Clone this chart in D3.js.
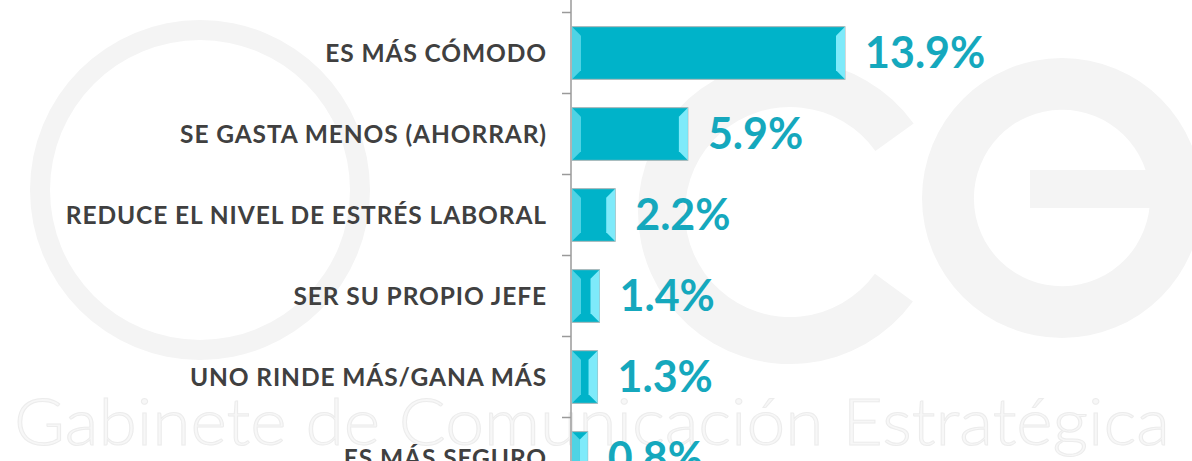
<!DOCTYPE html>
<html>
<head>
<meta charset="utf-8">
<script src="https://cdn.jsdelivr.net/npm/d3@7"></script>
<style>
  body { margin: 0; background: #fff; }
  svg { display: block; }
</style>
</head>
<body>
<svg id="container" width="1192" height="461"></svg>
<script>
let width = 1192,
    height = 461;

// data
let categories = ["ES MÁS CÓMODO", "SE GASTA MENOS (AHORRAR)", "REDUCE EL NIVEL DE ESTRÉS LABORAL",
    "SER SU PROPIO JEFE", "UNO RINDE MÁS/GANA MÁS", "ES MÁS SEGURO"]
let values = [13.9, 5.9, 2.2, 1.4, 1.3, 0.8]
let watermarkText = "Gabinete de Comunicación Estratégica"

let svg = d3.select("#container")

// faint logo in the background
let wm = svg.append("g").attr("fill", "#f4f4f4")
let arc = d3.arc()
wm.append("path")
    .attr("transform", "translate(200,190)")
    .attr("d", arc({innerRadius: 150, outerRadius: 170, startAngle: 0, endAngle: 2 * Math.PI}))
wm.append("path")
    .attr("transform", "translate(790,212)")
    .attr("d", arc({innerRadius: 105, outerRadius: 152, startAngle: 2.2, endAngle: 2 * Math.PI + 0.95}))
wm.append("path")
    .attr("transform", "translate(1062,198)")
    .attr("d", arc({innerRadius: 88, outerRadius: 140, startAngle: Math.PI / 2, endAngle: 2 * Math.PI + 1.95}))
wm.append("rect")
    .attr("x", 1030).attr("y", 170).attr("width", 175).attr("height", 38)

svg.append("text")
    .attr("x", 14)
    .attr("y", 445)
    .attr("textLength", 1156)
    .attr("lengthAdjust", "spacingAndGlyphs")
    .attr("font-family", "Lato, sans-serif")
    .attr("font-weight", 300)
    .attr("font-size", "66px")
    .attr("fill", "#f7f7f7")
    .attr("stroke", "#ececec")
    .attr("stroke-width", 1)
    .text(watermarkText)

// scales
let yScale = d3.scaleBand()
    .domain(categories)
    .range([12.5, 12.5 + 81 * categories.length])
    .paddingInner(0.35)
    .paddingOuter(0.175)

let xScale = d3.scaleLinear()
    .domain([0, 13.9])
    .range([572, 845])

// axis line with ticks between categories
let axis = svg.append("g").attr("stroke", "#9a9a9a")
axis.append("line")
    .attr("x1", 571).attr("x2", 571)
    .attr("y1", 0).attr("y2", height)
    .attr("stroke-width", 1.5)
axis.selectAll("line.tick")
    .data(d3.range(categories.length + 1))
    .enter()
    .append("line")
    .attr("class", "tick")
    .attr("x1", 562).attr("x2", 571)
    .attr("y1", i => yScale.range()[0] + i * yScale.step())
    .attr("y2", i => yScale.range()[0] + i * yScale.step())
    .attr("stroke-width", 1.5)

// bars with bevelled ends
let data = categories.map((c, i) => ({cat: c, value: values[i]}))
let bars = svg.append("g").selectAll("g")
    .data(data)
    .enter()
    .append("g")

bars.append("rect")
    .attr("x", xScale(0))
    .attr("y", d => yScale(d.cat))
    .attr("width", d => xScale(d.value) - xScale(0))
    .attr("height", yScale.bandwidth())
    .attr("fill", "#00b3c9")
    .attr("stroke", "#a9b4b6")
    .attr("stroke-width", 1)

function bevel(d, side) {
    let x0 = xScale(0), x1 = xScale(d.value)
    let y0 = yScale(d.cat), y1 = y0 + yScale.bandwidth()
    let b = Math.min(9, (x1 - x0) / 2)
    if (side == "left") {
        return [[x0, y0], [x0 + b, y0 + b], [x0 + b, y1 - b], [x0, y1]]
    }
    return [[x1, y0], [x1 - b, y0 + b], [x1 - b, y1 - b], [x1, y1]]
}

bars.append("polygon")
    .attr("points", d => bevel(d, "left").join(" "))
    .attr("fill", "#4fd3e4")
bars.append("polygon")
    .attr("points", d => bevel(d, "right").join(" "))
    .attr("fill", "#7eeafa")

// category labels
svg.append("g").selectAll("text")
    .data(data)
    .enter()
    .append("text")
    .attr("x", 547)
    .attr("y", d => yScale(d.cat) + yScale.bandwidth() / 2)
    .attr("dy", "0.36em")
    .attr("text-anchor", "end")
    .attr("font-family", "Lato, sans-serif")
    .attr("font-weight", 700)
    .attr("font-size", "24.5px")
    .attr("letter-spacing", "0.9px")
    .attr("fill", "#404040")
    .text(d => d.cat)

// value labels
svg.append("g").selectAll("text")
    .data(data)
    .enter()
    .append("text")
    .attr("x", d => xScale(d.value) + 20)
    .attr("y", d => yScale(d.cat) + yScale.bandwidth() / 2)
    .attr("dy", "0.36em")
    .attr("font-family", "Lato, sans-serif")
    .attr("font-weight", 700)
    .attr("font-size", "43px")
    .attr("fill", "#15a8bd")
    .text(d => d.value.toFixed(1) + "%")
</script>
</body>
</html>
